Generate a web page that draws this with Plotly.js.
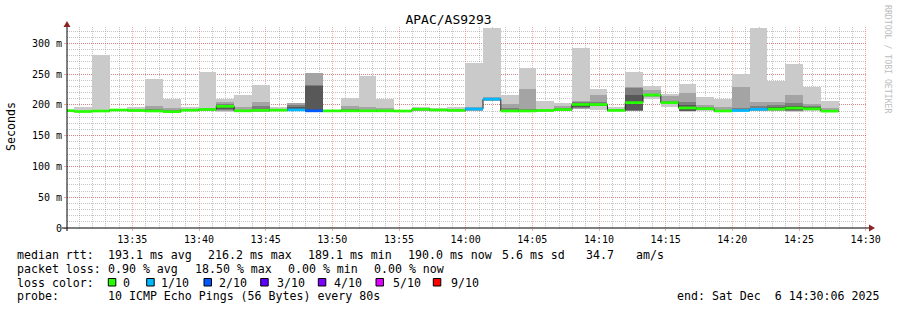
<!DOCTYPE html>
<html><head><meta charset="utf-8">
<script src="https://cdn.plot.ly/plotly-3.0.1.min.js"></script>
<style>html,body{margin:0;padding:0;background:#fff;}#chart{width:897px;height:310px;}</style>
</head><body><div id="chart"></div>
<script>
// ---- data ----
const day = [2025, 11, 6];
const times = ['13:29:18','13:30:38','13:31:58','13:33:18','13:34:38','13:35:58','13:37:18','13:38:38','13:39:58','13:41:18',
  '13:42:38','13:43:58','13:45:18','13:46:38','13:47:58','13:49:18','13:50:38','13:51:58','13:53:18','13:54:38',
  '13:55:58','13:57:18','13:58:38','13:59:58','14:01:18','14:02:38','14:03:58','14:05:18','14:06:38','14:07:58',
  '14:09:18','14:10:38','14:11:58','14:13:18','14:14:38','14:15:58','14:17:18','14:18:38','14:19:58','14:21:18',
  '14:22:38','14:23:58','14:25:18','14:26:38'];
const lastStepEnd = '14:27:58';
const rangeStart = '13:30:06';
const rangeEnd = '14:30:06';

const median = [190.8,189.4,190.2,191.8,191.0,190.3,189.1,191.5,192.7,197.8,
  190.5,191.3,191.6,192.0,190.5,190.4,190.5,190.5,190.5,190.2,
  193.0,191.8,191.2,193.5,209.5,190.3,190.3,191.0,192.5,200.8,
  200.7,191.2,203.8,216.2,203.8,195.2,194.0,190.3,191.0,193.0,
  193.4,195.0,193.8,190.0];
const loss = [0,0,0,0,0,0,0,0,0,0, 0,0,0,0.5,1.85,0,0,0,0,0, 0,0,0,0.3,0.5,0,0,0,0,0,
  0,0,0,0,0,0,0,0,0.4,0.4, 0,0,0,0];

// sorted ping rtts per step (ms); null = lost
const p1 = [188.5,188,188.5,189.8,189,188,187.5,189.5,189.5,189,188.5,188.5,189.5,189,null,188.5,188.5,188.5,188.5,188.5,
  190.5,189.8,189,190.5,206.5,188.5,188.5,189,190,193.5,192.5,189.5,190.5,209.5,196,189,190.5,188.5,189,190,190,189,190.5,188.3];
const p2 = [189,188.4,189,190.3,189.5,188.8,188,190,190.5,190.5,189,189,190,189.5,188.5,189,189,189,189,189,
  191,190.3,189.5,191,207,189,189,189.5,190.5,194,198,190,190.8,213.5,201,189.5,191.5,189,189.5,190.8,190.8,190,191.2,188.8];
const p3 = [189.5,188.7,189.4,190.8,190,189.3,188.3,190.5,191.2,192,189.5,189.5,190.5,190.2,189,189.4,189.5,189.5,189.5,189.3,
  191.6,190.8,190,191.6,207.5,189.4,189.4,190,191,194.5,198.3,190.4,191,214,201.5,190,192.3,189.4,190,191.5,191.5,191,191.8,189.2];
const p4 = [190,189,189.8,191.2,190.4,189.7,188.6,190.8,191.8,193.5,189.8,190,190.9,190.8,189.5,189.8,189.9,189.9,189.9,189.6,
  192.2,191.2,190.5,192.2,208,189.8,189.8,190.4,191.5,196,199,190.7,192,214.5,202,191,193,189.8,190.4,192,192.2,191.5,192.5,189.5];
const p5 = [190.5,189.2,190,191.5,190.7,190,188.9,191.2,192.3,196,190.2,190.8,191.3,191.4,190,190.1,190.2,190.2,190.2,189.9,
  192.6,191.5,190.9,192.8,208.8,190.1,190.1,190.7,192,199,200,191,202.5,215.5,203,194,193.5,190.1,190.7,192.5,192.8,193,193.2,189.8];
const p6 = [190.8,189.4,190.2,191.8,191,190.3,189.1,191.5,192.7,197.8,190.5,191.3,191.6,192,190.5,190.4,190.5,190.5,190.5,190.2,
  193,191.8,191.2,193.5,209.5,190.3,190.3,191,192.5,200.8,200.7,191.2,203.8,216.2,203.8,195.2,194,190.3,191,193,193.4,195,193.8,190];
const p7 = [191,189.8,190.6,192.1,191.4,191,190,192,193.2,199,191,193,192,196,231.5,190.7,191.5,191,191,190.5,
  193.5,192.2,191.6,194,210.2,191.5,191.5,191.4,193.5,203.5,202,191.6,216,217.5,205,200,195,191,192,194.5,196.5,198.5,196,190.8];
const p8 = [191.5,190.3,191,192.5,192,193,192,192.5,194,201,192.5,198.5,192.6,199.5,233,191,193,192.5,192,190.8,
  194,193.6,192.2,194.8,211,195,194,192,195,204.5,205,192.2,227,218.5,206,205.5,196.8,192.5,195,198,200,204,198,192];
const p9 = [192,191,192,193,193,198.5,194.5,193.5,195,205,196,205.5,193.5,203.3,252.3,191.5,198.8,196,195,191.2,
  195,194,193.2,196,212.5,202,226.2,193,198.5,205.8,216.5,193.5,229.5,224.5,214,220.2,200.3,196,228.5,205.5,205.5,216.5,202,195];
const p10 = [192.5,197.5,281.5,193.5,197.2,242.4,209.2,196.8,254,209,216.8,232.8,196.8,null,null,192,211.2,247.3,209.2,191.6,
  197.5,194.3,196.5,268.9,325,216.8,259.5,207,202.5,292.5,226,196.5,254,230.3,218.3,234.5,213.5,209.5,250.7,325,239.5,267,229,207];

const yTickVals = [0, 50, 100, 150, 200, 250, 300];
const yTickText = ['0', '50 m', '100 m', '150 m', '200 m', '250 m', '300 m'];

const lossLabels = ['0', '1/10', '2/10', '3/10', '4/10', '5/10', '9/10'];
const lossColors = ['#26ff00', '#00b8ff', '#0059ff', '#5e00ff', '#7e00ff', '#dd00ff', '#ff0000'];
const lossUpper = [0, 1, 2, 3, 4, 5, 10];

const statLine1 = ['median rtt:', '193.1 ms avg', '216.2 ms max', '189.1 ms min', '190.0 ms now', '5.6 ms sd', '34.7', 'am/s'];
const statLine2 = ['packet loss:', '0.90 % avg', '18.50 % max', '0.00 % min', '0.00 % now'];
const probeLine = ['probe:', '10 ICMP Echo Pings (56 Bytes) every 80s'];
const endText = 'end: Sat Dec \u00a06 14:30:06 2025';
const chartTitle = 'APAC/AS9293';
const yTitle = 'Seconds';
const watermark = 'RRDTOOL / TOBI OETIKER';

// ---- build ----
function ms(hms) { const [h, m, s] = hms.split(':').map(Number); return Date.UTC(day[0], day[1], day[2], h, m, s); }
const starts = times.map(ms);
const ends = starts.map((s, i) => i + 1 < starts.length ? starts[i + 1] : ms(lastStepEnd));
const centers = starts.map((s, i) => (s + ends[i]) / 2);
const widths = starts.map((s, i) => ends[i] - s);

const pings = [p1, p2, p3, p4, p5, p6, p7, p8, p9, p10];
const traces = [];
const half = 5;
for (let ib = 1; ib <= half; ib++) {
  const lo = pings[ib - 1], hi = pings[10 - ib];
  const c = Math.floor(190 / half * (half - ib)) + 50;
  traces.push({
    type: 'bar', x: centers, width: widths,
    base: lo.map((v, i) => (v == null || hi[i] == null) ? null : v),
    y: lo.map((v, i) => (v == null || hi[i] == null) ? null : hi[i] - v),
    marker: { color: `rgb(${c},${c},${c})`, line: { width: 0 } },
    hoverinfo: 'skip'
  });
}
// median step line
traces.push({
  type: 'scatter', mode: 'lines',
  x: starts.concat([ends[ends.length - 1]]),
  y: median.concat([median[median.length - 1]]),
  line: { shape: 'hv', color: '#202020', width: 1 }, hoverinfo: 'skip'
});
// loss-coloured median band
function lossIndex(l) { for (let k = 0; k < lossUpper.length; k++) if (l <= lossUpper[k]) return k; return lossUpper.length - 1; }
lossColors.forEach((col, k) => {
  const xs = [], ys = [];
  median.forEach((m, i) => { if (lossIndex(loss[i]) === k) { xs.push(starts[i], ends[i], null); ys.push(m, m, null); } });
  if (xs.length) traces.push({ type: 'scatter', mode: 'lines', x: xs, y: ys, line: { color: col, width: 2.7 }, connectgaps: false, hoverinfo: 'skip' });
});

// ---- layout helpers (pixel -> paper) ----
const L = 67, R = 30, T = 27, B = 82, W = 897, H = 310;
const PW = W - L - R, PH = H - T - B;
const px = x => (x - L) / PW;
const py = y => (H - B - y) / PH;
const mono = 'DejaVu Sans Mono';
const legendSize = 11.6;
const anns = [];
function txt(x, y, s, opt) {
  anns.push(Object.assign({ xref: 'paper', yref: 'paper', x: px(x), y: py(y), text: s, showarrow: false,
    xanchor: 'left', yanchor: 'middle', font: { family: mono, size: legendSize, color: '#000' } }, opt || {}));
}
const line1X = [16, 107.3, 207.3, 307.3, 407.3, 501, 585, 635];
statLine1.forEach((s, i) => txt(line1X[i] - 1, 255, s));
const line2X = [16, 107.3, 194, 286.7, 372.7];
statLine2.forEach((s, i) => txt(line2X[i] - 1, 268.8, s));
txt(15, 282.5, 'loss color:');
const swX = [108.3, 146.7, 204, 260.7, 318.3, 376, 433.3];
const labX = [121.7, 160, 218.3, 276, 333.3, 391.7, 450];
const shapes = [];
lossLabels.forEach((s, i) => {
  txt(labX[i] - 1, 282.5, s);
  shapes.push({ type: 'rect', xref: 'paper', yref: 'paper', x0: px(swX[i]), x1: px(swX[i] + 7.5), y0: py(278.5), y1: py(286),
    fillcolor: lossColors[i], line: { color: '#000', width: 1 }, layer: 'above' });
});
const line4X = [16, 107.3];
probeLine.forEach((s, i) => txt(line4X[i] - 1, 296.3, s));
txt(881, 296.3, endText, { xanchor: 'right' });
txt(11, 126, yTitle, { xanchor: 'center', textangle: -90, font: { family: mono, size: 11.6, color: '#000' } });
txt(888, 59, watermark, { xanchor: 'center', textangle: 90, font: { family: mono, size: 8.2, color: '#bdbdbd' } });

// axes with arrows
const axisCol = '#000';
const arrowCol = '#8b2323';
shapes.push({ type: 'line', xref: 'paper', yref: 'paper', x0: px(62), x1: px(869), y0: py(228), y1: py(228), line: { color: axisCol, width: 1 }, layer: 'above' });
shapes.push({ type: 'line', xref: 'paper', yref: 'paper', x0: px(67), x1: px(67), y0: py(231), y1: py(26), line: { color: axisCol, width: 1 }, layer: 'above' });
shapes.push({ type: 'path', xref: 'paper', yref: 'paper', path: `M ${px(869)} ${py(224.5)} L ${px(875)} ${py(228)} L ${px(869)} ${py(231.5)} Z`, fillcolor: arrowCol, line: { width: 0 }, layer: 'above' });
shapes.push({ type: 'path', xref: 'paper', yref: 'paper', path: `M ${px(63.5)} ${py(27)} L ${px(67)} ${py(21)} L ${px(70.5)} ${py(27)} Z`, fillcolor: arrowCol, line: { width: 0 }, layer: 'above' });

const majorGrid = 'rgba(235,60,60,0.45)';
const minorGrid = 'rgba(140,140,140,0.5)';
const layout = {
  width: W, height: H, margin: { l: L, r: R, t: T, b: B, pad: 0 },
  paper_bgcolor: '#fff', plot_bgcolor: '#fff',
  barmode: 'overlay', bargap: 0, showlegend: false,
  font: { family: mono, size: 10, color: '#000' },
  title: { text: chartTitle, font: { family: mono, size: 13, color: '#000' }, xref: 'container', yref: 'container', x: 0.5, y: 1 - 19.5 / H, xanchor: 'center', yanchor: 'middle' },
  xaxis: {
    type: 'date', range: [ms(rangeStart), ms(rangeEnd)], dtick: 300000, tickformat: '%H:%M',
    showgrid: true, gridcolor: majorGrid, griddash: '1px,1px', gridwidth: 1,
    minor: { dtick: 60000, showgrid: true, gridcolor: minorGrid, griddash: '1px,1px', gridwidth: 1 },
    zeroline: false, showline: false, ticks: 'outside', ticklen: 2, tickcolor: majorGrid,
    tickfont: { family: mono, size: 10, color: '#000' }, fixedrange: true
  },
  yaxis: {
    range: [0, 326.8], tickmode: 'array', tickvals: yTickVals, ticktext: yTickText,
    showgrid: true, gridcolor: majorGrid, griddash: '1px,1px', gridwidth: 1,
    minor: { tickmode: 'linear', tick0: 0, dtick: 10, showgrid: true, gridcolor: minorGrid, griddash: '1px,1px', gridwidth: 1 },
    zeroline: false, showline: false, ticks: 'outside', ticklen: 2, tickcolor: majorGrid,
    tickfont: { family: mono, size: 10, color: '#000' }, fixedrange: true
  },
  shapes: shapes, annotations: anns
};
Plotly.newPlot('chart', traces, layout, { staticPlot: true, displayModeBar: false });
</script></body></html>
